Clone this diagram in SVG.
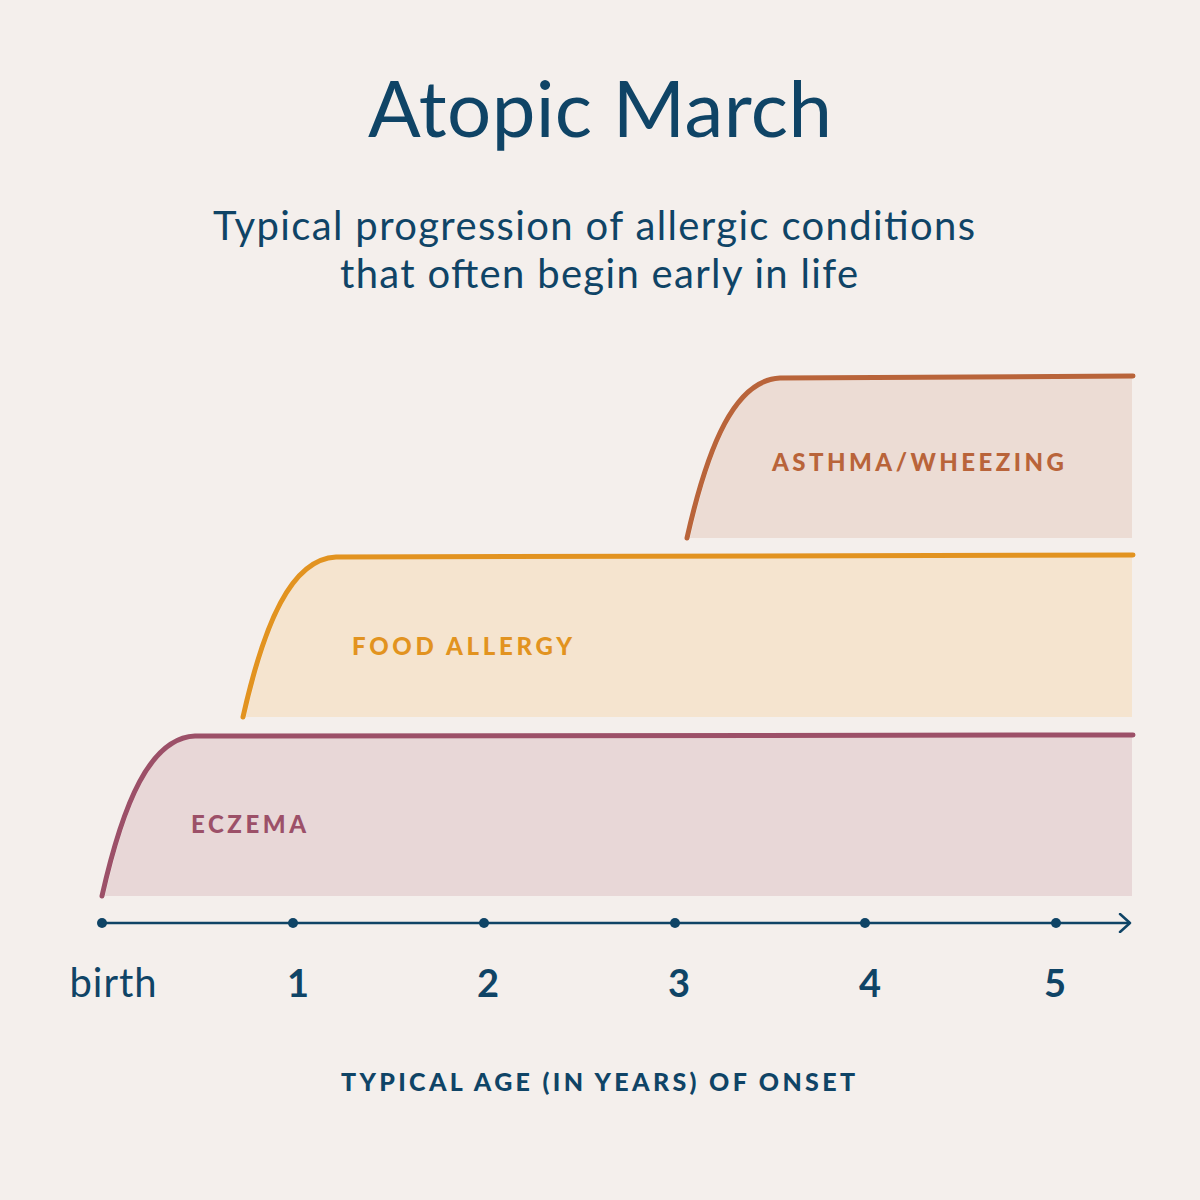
<svg xmlns="http://www.w3.org/2000/svg" width="1200" height="1200" viewBox="0 0 1200 1200">
<defs>
<style>
.t{font-family:Lato,"Noto Sans",sans-serif;fill:#0f4466;text-anchor:middle}
.title{font-size:78px}
.sub{font-size:40px}
.num{font-size:38px;font-weight:bold}
.lab{font-family:Lato,"Noto Sans",sans-serif;font-size:24px;font-weight:900;letter-spacing:4px}
.axt{font-family:Lato,"Noto Sans",sans-serif;font-size:25px;font-weight:900;letter-spacing:4px;fill:#0f4466;text-anchor:middle}
.crv{fill:none;stroke-width:5;stroke-linecap:round}
</style>
<marker id="arr" markerWidth="14" markerHeight="20" refX="12" refY="10" orient="auto" markerUnits="userSpaceOnUse">
<path d="M2,1 L12,10 L2,19" fill="none" stroke="#0f4466" stroke-width="2.5" stroke-linecap="round" stroke-linejoin="round"/>
</marker>
</defs>
<rect width="1200" height="1200" fill="#f4efec"/>
<text class="t title" x="600" y="137" textLength="464" lengthAdjust="spacing">Atopic March</text>
<text class="t sub" x="594" y="240" textLength="762" lengthAdjust="spacing">Typical progression of allergic conditions</text>
<text class="t sub" x="599" y="288" textLength="518" lengthAdjust="spacing">that often begin early in life</text>

<g id="asthma">
<path d="M690,538 C711,445 738,380 783,378 L1132,377 L1132,538 Z" fill="#ecdcd4"/>
<path d="M687,538 C708,445 735,380 780,378 L1133,376" class="crv" stroke="#b9643a"/>
<text class="lab" x="772" y="471" fill="#b9643a" textLength="296" lengthAdjust="spacing">ASTHMA/WHEEZING</text>
</g>
<g id="food">
<path d="M246,717 C267,624 294,559 339,557 L1132,556 L1132,717 Z" fill="#f5e4cf"/>
<path d="M243,717 C264,624 291,559 336,557 L1133,555" class="crv" stroke="#e29320"/>
<text class="lab" x="352" y="655" fill="#e29320" textLength="224" lengthAdjust="spacing">FOOD ALLERGY</text>
</g>
<g id="eczema">
<path d="M105,896 C126,803 153,738 198,736 L1132,735 L1132,896 Z" fill="#e8d7d7"/>
<path d="M102,896 C123,803 150,738 195,736 L1133,735" class="crv" stroke="#9c5068"/>
<text class="lab" x="191" y="833" fill="#9c5068" textLength="119" lengthAdjust="spacing">ECZEMA</text>
</g>

<g id="axis">
<line x1="102" y1="923" x2="1130" y2="923" stroke="#0f4466" stroke-width="2.5" marker-end="url(#arr)"/>
<g fill="#0f4466">
<circle cx="102" cy="923" r="5"/>
<circle cx="293" cy="923" r="5"/>
<circle cx="484" cy="923" r="5"/>
<circle cx="675" cy="923" r="5"/>
<circle cx="865" cy="923" r="5"/>
<circle cx="1056" cy="923" r="5"/>
</g>
</g>
<text class="t sub" x="113" y="997" textLength="87" lengthAdjust="spacing">birth</text>
<text class="t num" x="298" y="997">1</text>
<text class="t num" x="488" y="997">2</text>
<text class="t num" x="679" y="997">3</text>
<text class="t num" x="870" y="997">4</text>
<text class="t num" x="1055" y="997">5</text>
<text class="axt" x="600" y="1091" textLength="518" lengthAdjust="spacing">TYPICAL AGE (IN YEARS) OF ONSET</text>
</svg>
